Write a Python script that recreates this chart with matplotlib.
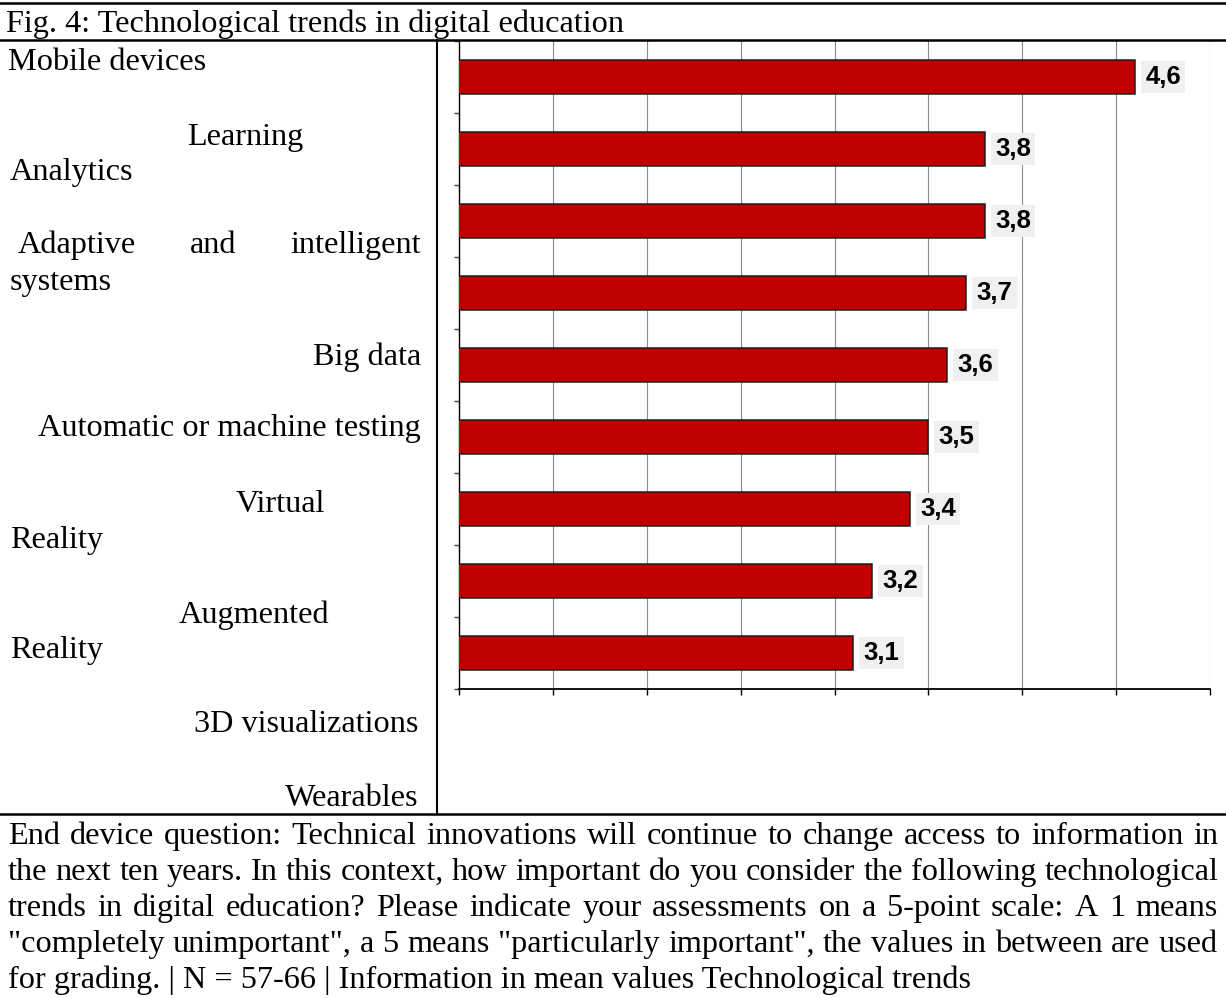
import numpy as np
import matplotlib
matplotlib.use("Agg")
import matplotlib.pyplot as plt
from matplotlib import font_manager
from matplotlib.lines import Line2D

# mean importance ratings (1..5 scale)
trends = ["Mobile devices", "Learning Analytics", "Adaptive and intelligent systems",
          "Big data", "Automatic or machine testing", "Virtual Reality",
          "Augmented Reality", "3D visualizations", "Wearables"]
scores = [4.6, 3.8, 3.8, 3.7, 3.6, 3.5, 3.4, 3.2, 3.1]

title = "Fig. 4: Technological trends in digital education"
caption = [
    "End device question: Technical innovations will continue to change access to information in",
    "the next ten years. In this context, how important do you consider the following technological",
    "trends in digital education? Please indicate your assessments on a 5-point scale: A 1 means",
    "\"completely unimportant\", a 5 means \"particularly important\", the values in between are used",
    "for grading. | N = 57-66 | Information in mean values Technological trends",
]

W, H = 1226, 998
fig = plt.figure(figsize=(W / 100, H / 100), dpi=100)
fig.patch.set_facecolor("white")

serif = "Liberation Serif"
fs = 23.2

avail = {f.name for f in font_manager.fontManager.ttflist}
num_font = "Liberation Sans Narrow" if "Liberation Sans Narrow" in avail else "Liberation Sans"


def fx(x):
    return x / W


def fy(y):
    return 1 - y / H


def put(s, x, y, ha="left"):
    return fig.text(fx(x), fy(y), s, fontsize=fs, family=serif, ha=ha, va="baseline")


def justify(line, x0, x1, y):
    words = line.split()
    texts = [put(w, 0, y) for w in words]
    r = fig.canvas.get_renderer()
    widths = [t.get_window_extent(r).width for t in texts]
    gap = (x1 - x0 - sum(widths)) / (len(words) - 1)
    x = x0
    for t, w in zip(texts, widths):
        t.set_x(fx(x))
        x += w + gap


# table rules
for y in (3, 40, 814):
    fig.add_artist(Line2D([0, 1], [fy(y), fy(y)], color="black", lw=1.8))
fig.add_artist(Line2D([fx(437), fx(437)], [fy(40), fy(814)], color="black", lw=1.5))

put(title, 6, 32)

# row labels in the left cell, wrapped as in the document
put("Mobile devices", 8, 70)
put("Learning", 187, 145)
put("Analytics", 10, 180)
justify("Adaptive and intelligent", 18, 421, 253)
put("systems", 10, 290)
put("Big data", 421, 365, ha="right")
put("Automatic or machine testing", 421, 436, ha="right")
put("Virtual", 236, 512)
put("Reality", 10, 548)
put("Augmented", 179, 623)
put("Reality", 10, 658)
put("3D visualizations", 418, 732, ha="right")
put("Wearables", 418, 806, ha="right")

for i, line in enumerate(caption):
    y = 844 + 36 * i
    if i < len(caption) - 1:
        justify(line, 8, 1218, y)
    else:
        put(line, 8, y)

# bar chart
ax = fig.add_axes([fx(459), fy(689), fx(1210) - fx(459), (689 - 41) / H])
ypos = np.arange(len(scores))
ax.barh(ypos, scores, height=0.48, left=0, color="#c00000",
        edgecolor="#1e1e1e", linewidth=1.1, zorder=3)
ax.set_xlim(1, 5)
ax.set_ylim(len(scores) - 0.5, -0.5)
ax.set_xticks(np.arange(1, 5.01, 0.5))
ax.set_xticklabels([])
ax.set_yticks(np.arange(-0.5, len(scores), 1.0))
ax.set_yticklabels([])
ax.grid(axis="x", color="#8a8a8a", lw=0.8)
ax.set_axisbelow(True)
for s in ("top", "right"):
    ax.spines[s].set_visible(False)
ax.spines["left"].set_linewidth(1.0)
ax.spines["bottom"].set_linewidth(1.3)
ax.tick_params(axis="x", length=4.5, width=1.0, color="black")
ax.tick_params(axis="y", length=3.6, width=1.0, color="#404040")

for i, v in enumerate(scores):
    ax.annotate(f"{v:.1f}".replace(".", ","), xy=(v, i), xytext=(7.5, 0),
                textcoords="offset points", ha="left", va="center",
                fontsize=18.5, fontweight="bold", family=num_font, zorder=4,
                bbox=dict(boxstyle="square,pad=0.17", fc="#f0f0f0", ec="none"))

fig.savefig("out.png", dpi=100, facecolor="white")
